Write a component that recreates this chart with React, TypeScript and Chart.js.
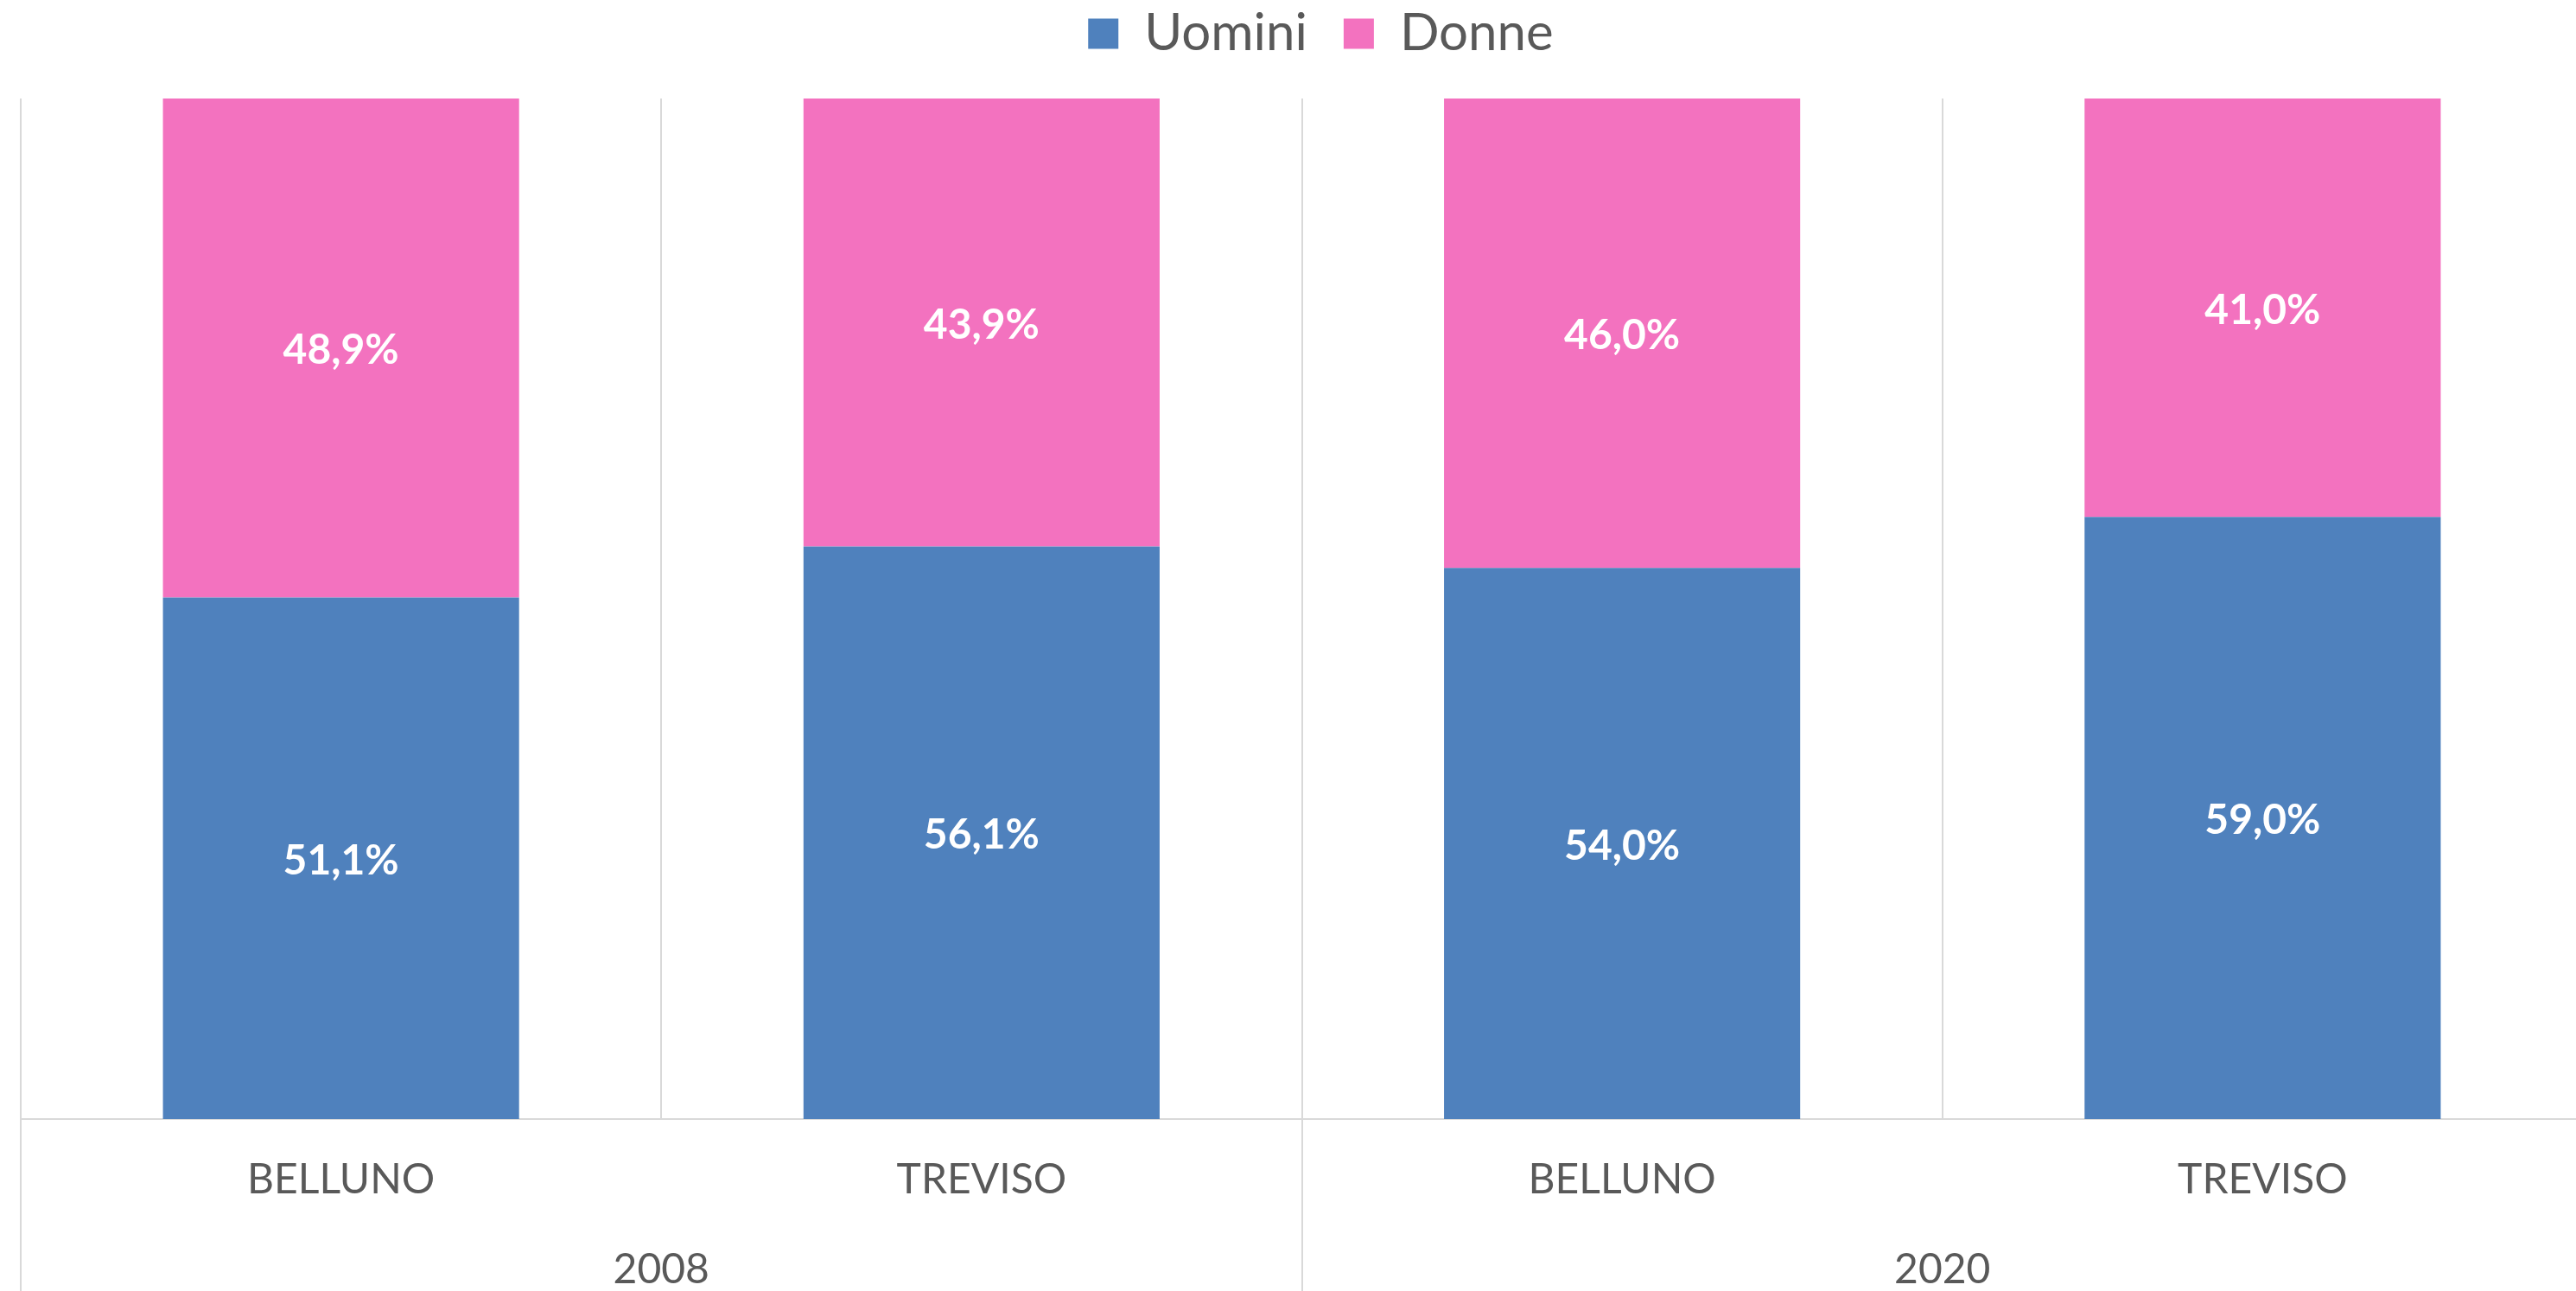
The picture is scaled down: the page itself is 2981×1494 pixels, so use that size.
import React, { useEffect, useRef } from "react";
import { Chart, registerables } from "chart.js";

Chart.register(...registerables);

const categories = ["BELLUNO", "TREVISO", "BELLUNO", "TREVISO"];
const years = ["2008", "2020"];
const uomini = [51.1, 56.1, 54.0, 59.0];
const donne = [48.9, 43.9, 46.0, 41.0];
const seriesNames = ["Uomini", "Donne"];
const seriesColors = ["#4F81BD", "#F372BF"];

const GRID = "#d9d9d9";
const TEXT = "#595959";

const legendTweak = {
  id: "legendTweak",
  beforeInit(chart: any) {
    const legend = chart.legend;
    if (!legend) return;
    const origFit = legend.fit;
    legend.fit = function () {
      origFit.bind(legend)();
      this.height = 114;
    };
    const origDraw = legend.draw;
    legend.draw = function (...args: any[]) {
      const ctx = chart.ctx;
      ctx.save();
      ctx.translate(22, -33);
      origDraw.apply(legend, args);
      ctx.restore();
    };
  },
};

const groupLines = {
  id: "groupLines",
  afterDraw(chart: any) {
    const x = chart.scales.x;
    const ctx = chart.ctx;
    const half = (x.getPixelForValue(1) - x.getPixelForValue(0)) / 2;
    const bounds = [0, 2].map((i) => Math.round(x.getPixelForValue(i) - half));
    ctx.save();
    ctx.strokeStyle = GRID;
    ctx.lineWidth = 2;
    bounds.forEach((bx) => {
      ctx.beginPath();
      ctx.moveTo(bx, chart.chartArea.bottom);
      ctx.lineTo(bx, chart.height);
      ctx.stroke();
    });
    ctx.restore();
  },
};

const valueLabels = {
  id: "valueLabels",
  afterDatasetsDraw(chart: any) {
    const ctx = chart.ctx;
    ctx.save();
    ctx.font = "bold 48px Lato";
    ctx.fillStyle = "#ffffff";
    ctx.textAlign = "center";
    ctx.textBaseline = "middle";
    chart.data.datasets.forEach((ds: any, di: number) => {
      const meta = chart.getDatasetMeta(di);
      meta.data.forEach((el: any, i: number) => {
        const v = ds.data[i] as number;
        const txt = v.toFixed(1).replace(".", ",") + "%";
        ctx.fillText(txt, el.x, (el.y + el.base) / 2 + 3);
      });
    });
    ctx.restore();
  },
};

export default function App() {
  const ref = useRef<HTMLCanvasElement | null>(null);

  useEffect(() => {
    document.body.style.margin = "0";
    document.body.style.overflow = "hidden";
    if (!ref.current) return;
    Chart.defaults.font.family = "Lato";
    const chart = new Chart(ref.current, {
      type: "bar",
      data: {
        labels: categories,
        datasets: [
          { label: seriesNames[0], data: uomini, backgroundColor: seriesColors[0], borderWidth: 0 },
          { label: seriesNames[1], data: donne, backgroundColor: seriesColors[1], borderWidth: 0 },
        ],
      },
      options: {
        animation: false,
        responsive: true,
        maintainAspectRatio: false,
        layout: { padding: { left: 24, right: 0, top: 0, bottom: 0 } },
        datasets: { bar: { categoryPercentage: 0.556, barPercentage: 1 } },
        plugins: {
          legend: {
            position: "top",
            labels: {
              boxWidth: 35,
              boxHeight: 35,
              padding: 42,
              color: TEXT,
              font: { size: 60 },
            },
          },
          tooltip: { enabled: false },
        },
        scales: {
          x: {
            stacked: true,
            weight: 0,
            offset: true,
            grid: { color: GRID, lineWidth: 2, drawTicks: false, offset: true },
            border: { display: true, color: GRID, width: 2 },
            ticks: { color: TEXT, font: { size: 48 }, padding: 42, maxRotation: 0 },
            afterFit: (s: any) => {
              s.height = 100;
            },
          },
          x2: {
            type: "category",
            labels: years,
            position: "bottom",
            weight: 1,
            offset: true,
            grid: { display: false },
            border: { display: false },
            ticks: { color: TEXT, font: { size: 48 }, padding: 38, maxRotation: 0 },
            afterFit: (s: any) => {
              s.height = 99;
            },
          },
          y: {
            stacked: true,
            display: false,
            min: 0,
            max: 100,
          },
        },
      },
      plugins: [legendTweak, groupLines, valueLabels],
    });
    return () => chart.destroy();
  }, []);

  return (
    <div style={{ width: 2989, height: 1494, position: "relative" }}>
      <canvas ref={ref} />
    </div>
  );
}
